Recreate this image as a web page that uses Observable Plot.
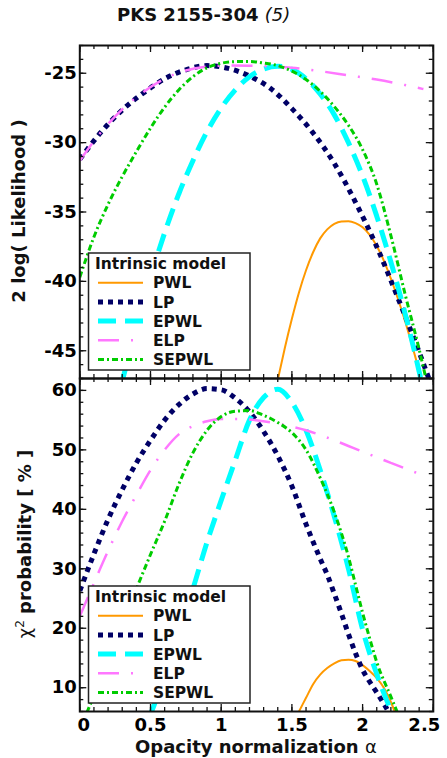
<!DOCTYPE html>
<html><head><meta charset="utf-8">
<script src="https://cdn.jsdelivr.net/npm/d3@7"></script>
<script src="https://cdn.jsdelivr.net/npm/@observablehq/plot@0.6"></script>
<style>
html,body{margin:0;padding:0;background:#fff;}
#chart{position:relative;width:447px;height:758px;overflow:hidden;background:#fff;}
#chart svg{position:absolute;left:0;overflow:visible;background:none;}
</style></head><body><div id="chart"></div>
<script>
// ---------- data ----------
const models = ["PWL", "LP", "EPWL", "ELP", "SEPWL"];
const xTicks = [0, 0.5, 1, 1.5, 2, 2.5];
const yTopTicks = [-45, -40, -35, -30, -25];
const yBotTicks = [10, 20, 30, 40, 50, 60];
const titleMain = "PKS 2155-304 ";
const titleNote = "(5)";
const legendTitle = "Intrinsic model";

// top panel: 2 log(Likelihood)
const topPWL_a = [1.40,1.45,1.50,1.55,1.60,1.65,1.70,1.75,1.80,1.85,1.90,1.95,2.00,2.05,2.10,2.15,2.20,2.25,2.30,2.35,2.40,2.43];
const topPWL_v = [-47.1,-44.8,-42.7,-40.8,-39.2,-37.9,-36.9,-36.25,-35.85,-35.68,-35.66,-35.8,-36.1,-36.65,-37.45,-38.5,-39.8,-41.25,-42.85,-44.6,-46.45,-47.6];
const topLP_a = [0,0.15,0.3,0.45,0.6,0.75,0.9,1.05,1.2,1.35,1.5,1.65,1.8,1.95,2.1,2.25,2.4,2.5];
const topLP_v = [-31.2,-29.25,-27.65,-26.42,-25.4,-24.75,-24.45,-24.65,-25.2,-26.1,-27.55,-29.3,-31.5,-34.3,-37.5,-41.2,-45.1,-47.9];
const topEPWL_a = [0.3,0.4,0.5,0.6,0.7,0.8,0.9,1.0,1.1,1.2,1.3,1.4,1.5,1.6,1.7,1.8,1.9,2.0,2.1,2.2,2.3,2.4,2.45];
const topEPWL_v = [-47.2,-43.3,-39.7,-36.5,-33.7,-31.3,-29.2,-27.5,-26.2,-25.25,-24.7,-24.5,-24.72,-25.4,-26.5,-28.0,-30.0,-32.4,-35.3,-38.6,-42.3,-46.5,-48.8];
const topELP_a = [0,0.15,0.3,0.45,0.6,0.75,0.9,1.05,1.2,1.35,1.5,1.7,1.9,2.1,2.3,2.43];
const topELP_v = [-31.3,-29.25,-27.6,-26.35,-25.4,-24.8,-24.52,-24.45,-24.46,-24.5,-24.6,-24.85,-25.15,-25.45,-25.85,-26.14];
const topSEPWL_a = [0,0.1,0.2,0.3,0.4,0.5,0.6,0.7,0.8,0.9,1.0,1.1,1.2,1.3,1.4,1.5,1.6,1.7,1.8,1.9,2.0,2.1,2.2,2.3,2.4,2.47];
const topSEPWL_v = [-39.7,-36.8,-34.45,-32.45,-30.65,-28.95,-27.45,-26.2,-25.25,-24.6,-24.28,-24.16,-24.15,-24.26,-24.45,-24.85,-25.45,-26.3,-27.4,-28.75,-30.5,-33.0,-36.7,-40.9,-44.9,-48.0];

// bottom panel: chi2 probability [%]
const botPWL_a = [1.55,1.6,1.65,1.7,1.75,1.8,1.85,1.9,1.95,2.0,2.05,2.1,2.15,2.2,2.23];
const botPWL_v = [6.0,8.3,10.6,12.2,13.3,14.1,14.6,14.7,14.5,13.8,12.8,11.6,10.0,7.6,5.8];
const botLP_a = [0,0.1,0.2,0.3,0.4,0.5,0.6,0.7,0.8,0.9,1.0,1.1,1.2,1.3,1.4,1.5,1.6,1.7,1.75,1.8,1.85,1.9,1.95,2.0,2.05,2.1,2.15,2.2];
const botLP_v = [26.3,32.5,38.3,43.3,47.8,51.6,55.0,57.6,59.4,60.3,60.1,58.7,56.4,53.1,49.0,43.9,37.5,31.7,29.0,25.8,22.5,19.0,15.8,13.0,11.0,9.2,7.3,5.3];
const botEPWL_a = [0.5,0.6,0.7,0.8,0.9,1.0,1.1,1.2,1.3,1.4,1.5,1.6,1.7,1.8,1.9,2.0,2.1,2.2];
const botEPWL_v = [5.5,11.8,19.0,26.6,34.5,41.5,48.3,55.0,58.8,60.2,58.0,53.3,46.6,38.8,30.0,19.8,12.3,6.2];
const botELP_a = [0,0.1,0.2,0.3,0.4,0.5,0.6,0.7,0.8,0.9,1.0,1.1,1.2,1.4,1.6,1.8,2.0,2.2,2.43];
const botELP_v = [22.0,27.6,33.0,38.0,42.4,46.6,50.0,52.6,54.0,54.8,55.2,55.2,55.1,54.4,53.3,51.6,49.7,47.8,45.7];
const botSEPWL_a = [0.05,0.1,0.2,0.3,0.4,0.5,0.6,0.7,0.8,0.9,1.0,1.1,1.2,1.3,1.4,1.5,1.6,1.7,1.8,1.9,1.95,2.0,2.05,2.1,2.2,2.25];
const botSEPWL_v = [5.8,8.7,14.6,20.6,26.6,32.4,38.0,44.2,49.5,53.3,55.6,56.5,56.6,55.8,54.6,52.9,50.0,45.3,39.5,32.0,27.3,22.6,18.3,14.3,8.5,5.6];

// ---------- styles ----------
const styles = {
  PWL:   {stroke: "#FF9900", strokeWidth: 2},
  LP:    {stroke: "#000066", strokeWidth: 5, strokeDasharray: "5,5"},
  EPWL:  {stroke: "#00FFFF", strokeWidth: 5, strokeDasharray: "18,9"},
  ELP:   {stroke: "#FF77FF", strokeWidth: 2.5, strokeDasharray: "21,12,2,12"},
  SEPWL: {stroke: "#00CC00", strokeWidth: 3, strokeDasharray: "6,3,2,3"}
};
const FONT = "DejaVu Sans";
const W = 447, ML = 79.3, MR = 14.2;
const FW = W - ML - MR;

const topData = {PWL: [topPWL_a, topPWL_v], LP: [topLP_a, topLP_v], EPWL: [topEPWL_a, topEPWL_v], ELP: [topELP_a, topELP_v], SEPWL: [topSEPWL_a, topSEPWL_v]};
const botData = {PWL: [botPWL_a, botPWL_v], LP: [botLP_a, botLP_v], EPWL: [botEPWL_a, botEPWL_v], ELP: [botELP_a, botELP_v], SEPWL: [botSEPWL_a, botSEPWL_v]};

function seriesMarks(panel) {
  return models.map(m => {
    const rows = panel[m][0].map((a, i) => ({a, v: panel[m][1][i]}));
    return Plot.line(rows, {x: "a", y: "v", ...styles[m], curve: "monotone-x", clip: true, strokeLinecap: "butt", strokeLinejoin: "miter"});
  });
}

const xMinor = d3.range(0, 2.5001, 0.1);
function frameTicks(yMajor, yMinor, H) {
  const t = {stroke: "#111", strokeWidth: 1.3};
  return [
    Plot.ruleX(xTicks, {...t, insetTop: H - 7}),
    Plot.ruleX(xTicks, {...t, insetBottom: H - 7}),
    Plot.ruleX(xMinor, {...t, insetTop: H - 4}),
    Plot.ruleX(xMinor, {...t, insetBottom: H - 4}),
    Plot.ruleY(yMajor, {...t, insetRight: FW - 7}),
    Plot.ruleY(yMajor, {...t, insetLeft: FW - 7}),
    Plot.ruleY(yMinor, {...t, insetRight: FW - 4}),
    Plot.ruleY(yMinor, {...t, insetLeft: FW - 4})
  ];
}
const axisText = {fontSize: 18, fontWeight: "bold", tickSize: 0, label: null, tickFormat: d => String(d)};

// ---------- top panel ----------
const topH = 378, topMT = 45;
const topSvg = Plot.plot({
  width: W, height: topH, marginTop: topMT, marginBottom: 0, marginLeft: ML, marginRight: MR,
  style: {fontFamily: FONT, background: "none", overflow: "visible"},
  x: {domain: [0, 2.5], axis: null},
  y: {domain: [-47, -23]},
  marks: [
    ...seriesMarks(topData),
    ...frameTicks(yTopTicks, d3.range(-47, -22.99, 1), topH - topMT),
    Plot.frame({stroke: "#111", strokeWidth: 2}),
    Plot.axisY(yTopTicks, {...axisText, tickPadding: 3})
  ]
});
topSvg.style.top = "0px";

// ---------- bottom panel ----------
const botH = 380, botMB = 47;
const botSvg = Plot.plot({
  width: W, height: botH, marginTop: 0, marginBottom: botMB, marginLeft: ML, marginRight: MR,
  style: {fontFamily: FONT, background: "none", overflow: "visible"},
  x: {domain: [0, 2.5]},
  y: {domain: [6, 62]},
  marks: [
    ...seriesMarks(botData),
    ...frameTicks(yBotTicks, d3.range(6, 62.01, 2), botH - botMB),
    Plot.frame({stroke: "#111", strokeWidth: 2}),
    Plot.axisY(yBotTicks, {...axisText, tickPadding: 3}),
    Plot.axisX([xTicks[0]], {...axisText, tickPadding: 7, dx: 4}),
    Plot.axisX(xTicks.slice(1, -1), {...axisText, tickPadding: 7}),
    Plot.axisX([xTicks[xTicks.length - 1]], {...axisText, tickPadding: 7, dx: -9})
  ]
});
botSvg.style.top = "378px";

const chart = document.getElementById("chart");
chart.appendChild(topSvg);
chart.appendChild(botSvg);

// ---------- texts ----------
function txt(sel) {
  return sel.append("text").attr("font-family", FONT).attr("font-size", 18)
    .attr("fill", "#111").style("text-anchor", "start").style("font-family", FONT);
}
const ts = d3.select(topSvg), bs = d3.select(botSvg);
const title = txt(ts).attr("x", 117).attr("y", 20.5);
title.append("tspan").style("font-weight", "bold").text(titleMain);
title.append("tspan").style("font-style", "italic").style("font-weight", "normal").text(titleNote);

txt(ts).attr("transform", "translate(25,211) rotate(-90)")
  .style("text-anchor", "middle").style("font-weight", "bold").text("2 log( Likelihood )");

const yl = txt(bs).attr("transform", "translate(31,166) rotate(-90)")
  .style("text-anchor", "middle").style("font-weight", "bold");
yl.append("tspan").style("font-weight", "normal").text("χ");
yl.append("tspan").style("font-weight", "normal").style("font-size", "12px").attr("dy", -7).text("2");
yl.append("tspan").attr("dy", 7).text(" probability [ % ]");

const xl = txt(bs).attr("x", 135).attr("y", 375).style("font-weight", "bold");
xl.append("tspan").text("Opacity normalization ");
xl.append("tspan").style("font-weight", "normal").text("α");

// ---------- legends ----------
function drawLegend(sel, boxTop) {
  const g = sel.append("g").style("font-family", FONT).style("text-anchor", "start").attr("fill", "#111");
  g.append("rect").attr("x", 88.5).attr("y", boxTop).attr("width", 161.5).attr("height", 117)
    .attr("fill", "white").attr("stroke", "#222").attr("stroke-width", 1.5);
  g.append("text").attr("x", 95).attr("y", boxTop + 16).style("font-size", "15.5px")
    .style("font-weight", "bold").style("text-anchor", "start").text(legendTitle);
  models.forEach((m, i) => {
    const cy = boxTop + 29.7 + i * 19.2;
    const s = styles[m];
    g.append("line").attr("x1", 98).attr("x2", 143).attr("y1", cy).attr("y2", cy)
      .attr("stroke", s.stroke).attr("stroke-width", s.strokeWidth)
      .attr("stroke-dasharray", s.strokeDasharray || null);
    g.append("text").attr("x", 153).attr("y", cy + 5.6).style("font-size", "15.5px")
      .style("font-weight", "bold").style("text-anchor", "start").text(m);
  });
}
drawLegend(ts, topMT + 208);
drawLegend(bs, 208);
</script></body></html>
